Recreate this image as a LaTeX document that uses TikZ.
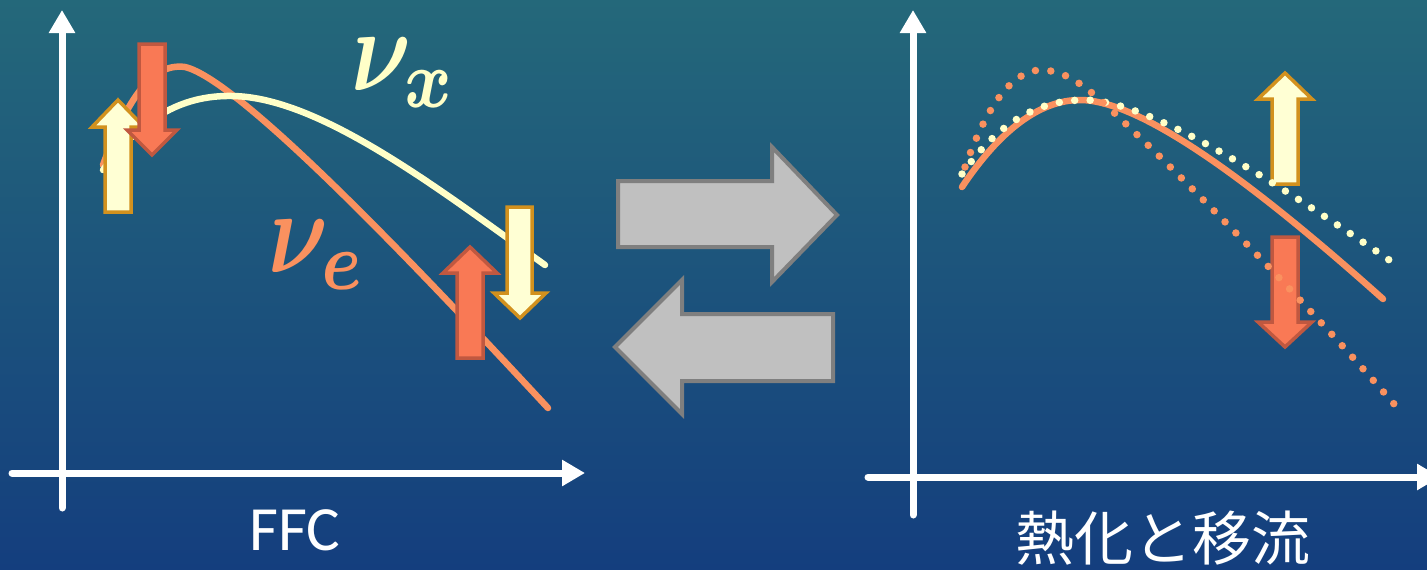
\documentclass[tikz,border=0pt]{standalone}
\usepackage{bm}
\usepackage{fontspec}
\newfontfamily\carl{Carlito}
\newfontfamily\cjk{Noto Sans CJK JP}
\usetikzlibrary{arrows.meta}
\definecolor{bgtop}{RGB}{36,104,122}
\definecolor{bgbot}{RGB}{20,62,126}
\definecolor{salmon}{RGB}{250,145,95}
\definecolor{cream}{RGB}{255,255,200}
\definecolor{redfill}{RGB}{249,121,85}
\definecolor{redline}{RGB}{192,88,64}
\definecolor{yelfill}{RGB}{255,255,212}
\definecolor{yelline}{RGB}{210,145,30}
\definecolor{grayfill}{RGB}{192,192,192}
\definecolor{grayline}{RGB}{127,127,127}
\begin{document}
\begin{tikzpicture}[x=1pt,y=-1pt,
 axis/.style={white,line width=7pt,line cap=round,-{Triangle[length=23pt,width=25pt]}},
 curve/.style={line width=6.5pt,line cap=round},
 dots/.style={line width=7.5pt,line cap=round,dash pattern=on 0pt off 15.5pt},
 redarr/.style={fill=redfill,draw=redline,line width=3.5pt},
 yelarr/.style={fill=yelfill,draw=yelline,line width=3.5pt},
 grayarr/.style={fill=grayfill,draw=grayline,line width=4pt},
 lab/.style={inner sep=0pt,outer sep=0pt},
 mathlab/.style={lab,xscale=9.3,yscale=11.8,anchor=base west}]
\useasboundingbox (0,0) rectangle (1427,570);
\fill[top color=bgtop,bottom color=bgbot] (0,0) rectangle (1427,570);

% left axes
\coordinate (lo1) at (62,508); \coordinate (lt1) at (62,10);
\coordinate (lo2) at (12,473); \coordinate (lt2) at (585,473);
\draw[axis] (lo1) -- (lt1);
\draw[axis] (lo2) -- (lt2);
% right axes
\coordinate (ro1) at (913,515); \coordinate (rt1) at (913,10);
\coordinate (ro2) at (868,477); \coordinate (rt2) at (1440,477);
\draw[axis] (ro1) -- (rt1);
\draw[axis] (ro2) -- (rt2);

% left curves
\draw[curve,salmon] (103,165) .. controls (125,105) and (150,62) .. (185,67)
  .. controls (240,80) and (420,270) .. (548,408);
\draw[curve,cream] (103,170) .. controls (140,120) and (180,95) .. (232,96)
  .. controls (320,97) and (440,190) .. (545,265);

% left block arrows
\draw[yelarr] (105,212) -- (105,127) -- (92,127) -- (118,100) -- (144,127) -- (131,127) -- (131,212) -- cycle;
\draw[redarr] (139,44) -- (165,44) -- (165,130) -- (177,130) -- (152,155) -- (127,130) -- (139,130) -- cycle;
\draw[redarr] (457,358) -- (457,273) -- (443,273) -- (470,247) -- (497,273) -- (483,273) -- (483,358) -- cycle;
\draw[yelarr] (507,207) -- (532,207) -- (532,293) -- (546,293) -- (520,318) -- (494,293) -- (507,293) -- cycle;

% labels
\node[mathlab,text=cream] (nux) at (351,90) {$\bm{\nu}_{\bm{x}}$};
\node[mathlab,text=salmon] (nue) at (268,272) {$\bm{\nu}_{\bm{e}}$};

% middle gray arrows
\draw[grayarr] (618,181) -- (772,181) -- (772,147) -- (837,215) -- (772,282) -- (772,247) -- (618,247) -- cycle;
\draw[grayarr] (833,314) -- (682,314) -- (682,280) -- (615,347) -- (682,414) -- (682,381) -- (833,381) -- cycle;

% right solid curve
\draw[curve,salmon] (962,187) .. controls (1000,130) and (1040,100) .. (1080,100)
  .. controls (1140,100) and (1250,180) .. (1383,299);

% right block arrows
\draw[yelarr] (1272,184) -- (1272,99) -- (1258,99) -- (1285,73) -- (1312,99) -- (1298,99) -- (1298,184) -- cycle;
\draw[redarr] (1272,237) -- (1298,237) -- (1298,322) -- (1312,322) -- (1285,347) -- (1258,322) -- (1272,322) -- cycle;

% right dotted curves
\draw[dots,cream] (962,174) .. controls (1000,120) and (1040,100) .. (1085,100)
  .. controls (1150,100) and (1280,185) .. (1395,264);
\draw[dots,salmon] (965,167) .. controls (975,140) and (1000,72) .. (1040,70)
  .. controls (1075,70) and (1100,100) .. (1150,147)
  .. controls (1250,245) and (1330,330) .. (1401,412);

% captions
\node[lab,text=white,font=\carl\fontsize{63}{63}\selectfont,anchor=base] (ffc) at (295,550) {FFC};
\node[lab,text=white,font=\cjk\fontsize{59}{59}\selectfont,anchor=base] (jp) at (1163,560) {熱化と移流};
\end{tikzpicture}
\end{document}
